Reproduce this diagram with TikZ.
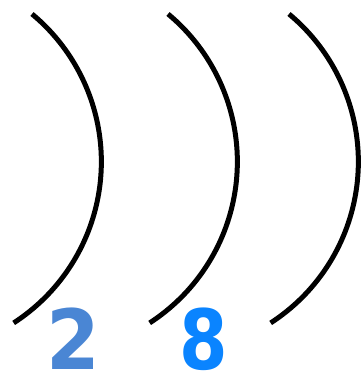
\documentclass[tikz,border=0pt]{standalone}
\usepackage{fontspec}
\setmainfont{DejaVu Sans}
\definecolor{blueA}{HTML}{4A86D4}
\definecolor{blueB}{HTML}{0A84FF}
\begin{document}
\begin{tikzpicture}[x=1pt,y=1pt,
  shell/.style={line width=5pt, black},
  digit/.style={font=\bfseries\fontsize{83}{83}\selectfont, inner sep=0pt, anchor=base}]
\useasboundingbox (0,0) rectangle (361,372);
\draw[shell] (32,358) arc[start angle=50.3, end angle=-57.1, radius=192];
\draw[shell] (168,358) arc[start angle=50.3, end angle=-57.1, radius=192];
\draw[shell] (289,358) arc[start angle=50.3, end angle=-57.1, radius=192];
\node[digit, text=blueA, xscale=0.93] (two) at (73.5,2) {2};
\node[digit, text=blueB, xscale=0.84] (eight) at (203.5,2) {8};
\end{tikzpicture}
\end{document}
